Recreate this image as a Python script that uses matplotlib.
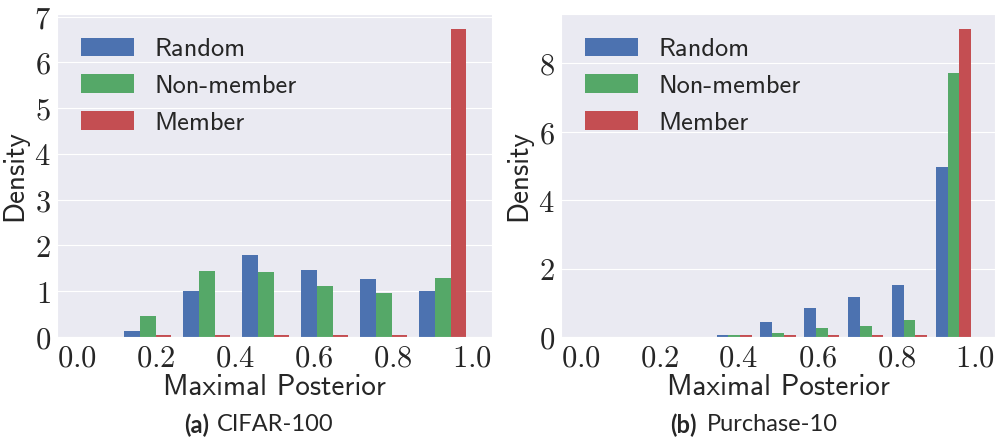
import matplotlib
matplotlib.use('Agg')
import matplotlib.pyplot as plt
import numpy as np
import seaborn as sns
from matplotlib.ticker import FormatStrFormatter

sns.set_style('darkgrid')
plt.rcParams['mathtext.fontset'] = 'cm'

LABELS = ['Random', 'Non-member', 'Member']
COLORS = ['#4C72B0', '#55A868', '#C44E52']

# CIFAR-100: 6 bins between the smallest posterior seen and 1.0
cifar_edges = np.linspace(0.105, 1.0, 7)
cifar_random = [0.13, 1.00, 1.79, 1.47, 1.27, 1.00]
cifar_nonmember = [0.46, 1.44, 1.42, 1.12, 0.96, 1.29]
cifar_member = [0.04, 0.04, 0.04, 0.04, 0.04, 6.72]

# Purchase-10: 9 bins over [0, 1]
purchase_edges = np.linspace(0.0, 1.0, 10)
purchase_random = [0.0, 0.0, 0.0, 0.05, 0.45, 0.86, 1.18, 1.53, 4.98]
purchase_nonmember = [0.0, 0.0, 0.0, 0.05, 0.13, 0.27, 0.33, 0.50, 7.71]
purchase_member = [0.0, 0.0, 0.0, 0.05, 0.05, 0.05, 0.05, 0.05, 8.99]

XTICKS = [0.0, 0.2, 0.4, 0.6, 0.8, 1.0]


def draw(ax, edges, series, yticks):
    centers = (edges[:-1] + edges[1:]) / 2
    ax.hist([centers] * len(series), bins=edges, weights=series,
            color=COLORS, label=LABELS, linewidth=0)
    ax.set_xlim(-0.05, 1.05)
    ax.set_xticks(XTICKS)
    ax.set_yticks(yticks)
    ax.xaxis.set_major_formatter(FormatStrFormatter(r'$%.1f$'))
    ax.yaxis.set_major_formatter(FormatStrFormatter(r'$%d$'))
    ax.grid(axis='x', visible=False)
    ax.tick_params(axis='both', labelsize=22, pad=1, colors='#262626')
    ax.set_xlabel('Maximal Posterior', family='cmss10', fontsize=21,
                  labelpad=1, color='#262626')
    ax.set_ylabel('Density', family='cmss10', fontsize=21, color='#262626')
    ax.yaxis.set_label_coords(-0.066, 0.5)
    leg = ax.legend(loc='upper left', frameon=False, handlelength=2.0,
                    prop={'family': 'cmss10', 'size': 19})
    for t in leg.get_texts():
        t.set_color('#262626')


fig = plt.figure(figsize=(9.97, 4.43), dpi=100)
ax1 = fig.add_axes([0.0572, 0.2393, 0.4363, 0.7291])
ax2 = fig.add_axes([0.5627, 0.2393, 0.4353, 0.7291])

draw(ax1, cifar_edges, [cifar_random, cifar_nonmember, cifar_member],
     range(0, 8))
draw(ax2, purchase_edges, [purchase_random, purchase_nonmember, purchase_member],
     [0, 2, 4, 6, 8])

# captions: bold tag + dataset name
cap_y = 0.041
fig.text(209 / 997, cap_y, '(a)', ha='right', va='center', family='Lato',
         fontweight='bold', fontsize=17)
fig.text(217 / 997, cap_y, 'CIFAR-100', ha='left', va='center', family='Lato',
         fontsize=17)
fig.text(697 / 997, cap_y, '(b)', ha='right', va='center', family='Lato',
         fontweight='bold', fontsize=17)
fig.text(707 / 997, cap_y, 'Purchase-10', ha='left', va='center', family='Lato',
         fontsize=17)

fig.savefig('out.png', dpi=100)
